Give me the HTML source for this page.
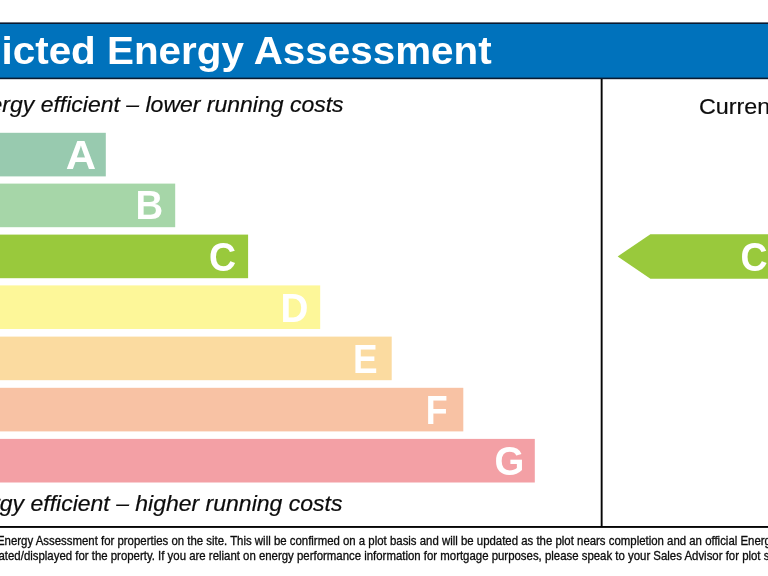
<!DOCTYPE html>
<html lang="en">
<head>
<meta charset="utf-8">
<title>Predicted Energy Assessment</title>
<style>
html,body{margin:0;padding:0;background:#fff;}
body{width:768px;height:576px;overflow:hidden;position:relative;font-family:"Liberation Sans",Arial,sans-serif;}
svg{position:absolute;left:0;top:0;display:block;}
text{font-family:"Liberation Sans",Arial,sans-serif;}
.bl{font-weight:bold;font-size:40.4px;fill:#fff;text-anchor:middle;}
.it{font-style:italic;font-size:22px;fill:#0c0c0c;stroke:#0c0c0c;stroke-width:0.2px;text-anchor:end;}
.ft{font-size:11.85px;fill:#0c0c0c;stroke:#0c0c0c;stroke-width:0.3px;}
</style>
</head>
<body>
<svg width="768" height="576" viewBox="0 0 768 576">
  <!-- header -->
  <rect x="0" y="22.4" width="768" height="56.8" fill="#0a1a30"/>
  <rect x="0" y="24" width="768" height="53.6" fill="#0072bc"/>
  <text id="title" transform="translate(491.7,64.1) scale(1.047,1)" text-anchor="end" font-weight="bold" font-size="38.6" fill="#fff">Predicted Energy Assessment</text>

  <!-- frame lines -->
  <rect x="600.7" y="79" width="1.9" height="448" fill="#050505"/>
  <rect x="0" y="526" width="768" height="1.9" fill="#050505"/>

  <text id="t1" class="it" style="font-size:22.8px" transform="translate(343.6,111.8) scale(1.009,1)">Very energy efficient – lower running costs</text>

  <!-- rating bars -->
  <rect x="0" y="132.8" width="105.8" height="43.6" fill="#98caaf"/>
  <rect x="0" y="183.6" width="175.2" height="43.6" fill="#a6d6a8"/>
  <rect x="0" y="234.6" width="248.1" height="43.6" fill="#99c93c"/>
  <rect x="0" y="285.4" width="320.2" height="43.6" fill="#fdf799"/>
  <rect x="0" y="336.6" width="391.7" height="43.6" fill="#fbdba0"/>
  <rect x="0" y="387.8" width="463.3" height="43.6" fill="#f8c2a4"/>
  <rect x="0" y="438.9" width="534.8" height="43.6" fill="#f3a0a5"/>
  <text class="bl" transform="translate(80.8,168.9) scale(1.040,1)">A</text>
  <text class="bl" transform="translate(149.3,219.45) scale(0.950,1)">B</text>
  <text class="bl" transform="translate(222.5,270.55) scale(0.928,1)">C</text>
  <text class="bl" transform="translate(294.4,321.7) scale(0.957,1)">D</text>
  <text class="bl" transform="translate(365.3,372.75) scale(0.913,1)">E</text>
  <text class="bl" transform="translate(436.8,423.75) scale(0.888,1)">F</text>
  <text class="bl" transform="translate(509.5,474.85) scale(0.950,1)">G</text>

  <text id="t2" class="it" transform="translate(342.4,511.3) scale(1.0455,1)">Not energy efficient – higher running costs</text>

  <!-- current rating column -->
  <text id="cur" transform="translate(698.9,114.3) scale(1.036,1)" font-size="22.5" fill="#0c0c0c" stroke="#0c0c0c" stroke-width="0.2">Current</text>
  <polygon points="617.7,256.4 650.4,234.3 768,234.3 768,278.8 650.4,278.8" fill="#99c93c"/>
  <text transform="translate(740.6,270.55) scale(0.928,1)" font-weight="bold" font-size="40.4" fill="#fff">C</text>

  <!-- footnote -->
  <text id="f1" class="ft" transform="translate(-100,544.6) scale(0.9637,1)">This is a Predicted Energy Assessment for properties on the site. This will be confirmed on a plot basis and will be updated as the plot nears completion and an official Energy Performance</text>
  <text id="f2" class="ft" transform="translate(-96.6,559.9) scale(0.9637,1)">Certificate is generated/displayed for the property. If you are reliant on energy performance information for mortgage purposes, please speak to your Sales Advisor for plot specific</text>
</svg>
</body>
</html>
